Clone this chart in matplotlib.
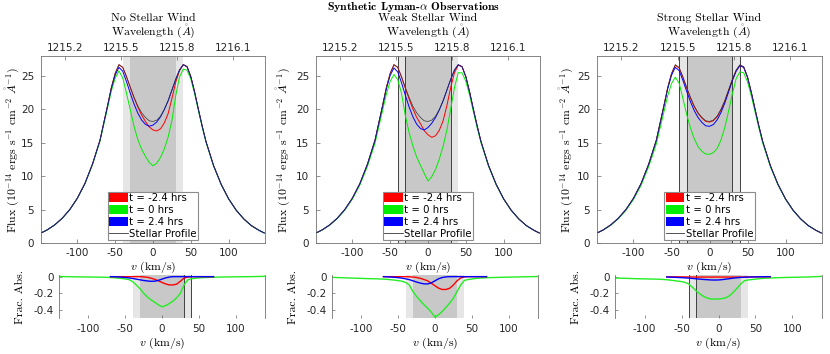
import numpy as np
import matplotlib.pyplot as plt
from matplotlib.patches import Patch
from matplotlib.lines import Line2D

plt.rcParams['mathtext.fontset'] = 'cm'
plt.rcParams['axes.unicode_minus'] = False
plt.rcParams['font.family'] = 'DejaVu Sans'

LYA = 1215.67
C_KMS = 299792.458

# velocity grid (km/s) shared by all curves
v_kms = [-147, -140, -130, -120, -110, -100, -90, -80,
         -70, -65, -60, -55, -50, -45, -40, -35, -30, -25, -20, -15, -10, -5,
         0, 5, 10, 15, 20, 25, 30, 35, 40, 45, 50, 55, 60, 65, 70,
         80, 90, 100, 110, 120, 130, 140, 147]

# intrinsic stellar profile (1e-14 ergs/s/cm2/A)
stellar = [1.55, 1.95, 2.7, 3.7, 5.0, 6.7, 8.9, 11.8,
           15.4, 18.0, 20.6, 23.3, 25.4, 26.7, 26.3, 24.9, 23.3, 21.8, 20.5, 19.5, 18.8, 18.3,
           18.2, 18.4, 19.0, 20.0, 21.3, 22.9, 24.5, 25.9, 26.7, 26.4, 24.9, 22.6, 20.0, 17.5, 15.2,
           11.6, 8.8, 6.6, 4.9, 3.6, 2.6, 1.9, 1.5]

# fractional absorption, no stellar wind
red_none = [0, 0, 0, 0, 0, 0, 0, 0,
            0, 0, 0, 0, 0, 0, 0, 0, 0, -0.003, -0.008, -0.018, -0.032, -0.05,
            -0.07, -0.088, -0.1, -0.1, -0.09, -0.055, -0.018, -0.004, 0, 0, 0, 0, 0, 0, 0,
            0, 0, 0, 0, 0, 0, 0, 0]
green_none = [0.005, 0.003, 0.0, -0.002, -0.003, -0.004, -0.005, -0.007,
              -0.01, -0.013, -0.018, -0.022, -0.028, -0.035, -0.06, -0.1, -0.145, -0.2, -0.245, -0.28, -0.31, -0.34,
              -0.365, -0.35, -0.325, -0.295, -0.255, -0.2, -0.1, -0.04, -0.025, -0.02, -0.015, -0.012, -0.01, -0.008, -0.007,
              -0.005, -0.003, -0.002, -0.001, 0.0, 0.002, 0.004, 0.005]
blue_none = [0, 0, 0, 0, 0, 0, 0, 0,
             0, 0, -0.003, -0.006, -0.01, -0.015, -0.022, -0.03, -0.038, -0.046, -0.052, -0.056, -0.055, -0.045,
             -0.03, -0.015, -0.005, 0, 0, 0, 0, 0, 0, 0, 0, 0, 0, 0, 0,
             0, 0, 0, 0, 0, 0, 0, 0]

# fractional absorption, weak stellar wind
red_weak = [0, 0, 0, 0, 0, 0, 0, 0,
            0, 0, 0, 0, 0, 0, 0, -0.002, -0.005, -0.01, -0.02, -0.035, -0.05, -0.08,
            -0.11, -0.14, -0.155, -0.155, -0.14, -0.1, -0.05, -0.015, -0.003, 0, 0, 0, 0, 0, 0,
            0, 0, 0, 0, 0, 0, 0, 0]
green_weak = [-0.005, -0.008, -0.012, -0.015, -0.018, -0.021, -0.024, -0.026,
              -0.03, -0.033, -0.037, -0.042, -0.048, -0.055, -0.07, -0.1, -0.18, -0.24, -0.29, -0.34, -0.38, -0.43,
              -0.49, -0.46, -0.42, -0.37, -0.32, -0.26, -0.18, -0.1, -0.045, -0.035, -0.028, -0.022, -0.018, -0.015, -0.013,
              -0.01, -0.008, -0.006, -0.004, -0.002, 0.0, 0.002, 0.003]
blue_weak = [0, 0, 0, 0, 0, 0, 0, 0,
             0, -0.002, -0.005, -0.008, -0.012, -0.018, -0.026, -0.036, -0.05, -0.065, -0.078, -0.087, -0.088, -0.075,
             -0.05, -0.025, -0.01, -0.003, 0, 0, 0, 0, 0, 0, 0, 0, 0, 0, 0,
             0, 0, 0, 0, 0, 0, 0, 0]

# fractional absorption, strong stellar wind
red_strong = [0, 0, 0, 0, 0, 0, 0, 0,
              -0.002, -0.002, -0.002, -0.002, -0.003, -0.003, -0.004, -0.004, -0.005, -0.005, -0.005, -0.005, -0.005, -0.005,
              -0.005, -0.005, -0.005, -0.005, -0.005, -0.005, -0.005, -0.004, -0.004, -0.003, -0.003, -0.002, -0.002, -0.002, -0.002,
              0, 0, 0, 0, 0, 0, 0, 0]
green_strong = [-0.015, -0.016, -0.019, -0.022, -0.025, -0.027, -0.029, -0.031,
                -0.037, -0.042, -0.048, -0.054, -0.06, -0.07, -0.09, -0.13, -0.175, -0.21, -0.24, -0.26, -0.27, -0.272,
                -0.27, -0.265, -0.255, -0.23, -0.19, -0.14, -0.09, -0.05, -0.04, -0.035, -0.03, -0.025, -0.02, -0.018, -0.016,
                -0.013, -0.01, -0.008, -0.006, -0.004, -0.001, 0.004, 0.006]
blue_strong = [0, 0, 0, 0, 0, 0, 0, 0,
               -0.004, -0.006, -0.008, -0.01, -0.012, -0.015, -0.018, -0.022, -0.026, -0.03, -0.034, -0.037, -0.04, -0.041,
               -0.04, -0.036, -0.03, -0.024, -0.018, -0.013, -0.009, -0.007, -0.005, -0.004, -0.003, -0.002, -0.001, 0, 0,
               0, 0, 0, 0, 0, 0, 0, 0]

titles = ["No Stellar Wind", "Weak Stellar Wind", "Strong Stellar Wind"]
frac_red = [red_none, red_weak, red_strong]
frac_green = [green_none, green_weak, green_strong]
frac_blue = [blue_none, blue_weak, blue_strong]
labels = ["t = -2.4 hrs", "t = 0 hrs", "t = 2.4 hrs", "Stellar Profile"]
wave_ticks = [1215.2, 1215.5, 1215.8, 1216.1]
flux_ticks = [0, 5, 10, 15, 20, 25]
v_ticks = [-100, -50, 0, 50, 100]
frac_ticks = [0, -0.2, -0.4]
marker_lines_top = [[], [-40, -30, 30], [-40, -30, 30, 40]]
marker_lines_bot = [[30, 40], [], [-40, -30]]

W, H = 830, 354
fig = plt.figure(figsize=(8.3, 3.54), dpi=100)


def box(x0, y0, x1, y1):
    # pixel box (y measured from top) -> figure fraction
    return [x0 / W, 1 - y1 / H, (x1 - x0) / W, (y1 - y0) / H]


def v2lam(v):
    return LYA * (1 + np.asarray(v) / C_KMS)


def lam2v(lam):
    return (np.asarray(lam) / LYA - 1) * C_KMS


top_px = [(41, 265), (316, 540), (597, 822)]
bot_px = [(59, 265), (332, 538), (615, 822)]
flux_lab_x = [12, 283, 566]
cols = {'red': '#ff0000', 'green': '#00ee00', 'blue': '#0000ff'}
serif = dict(family='cmr10', size=8.5, ha='center', va='center')

v = np.array(v_kms)
star = np.array(stellar)
core = np.abs(v) <= 70

for i in range(3):
    # ---- flux panel ----
    x0, x1 = top_px[i]
    ax = fig.add_axes(box(x0, 56, x1, 243))
    ax.axvspan(-40, 40, color='#e6e6e6', lw=0, zorder=0)
    ax.axvspan(-30, 30, color='#c8c8c8', lw=0, zorder=0)
    for xv in marker_lines_top[i]:
        ax.axvline(xv, color='0.25', lw=0.7, zorder=1)
    ax.plot(v, star * (1 + np.array(frac_red[i])), color=cols['red'], lw=0.7, zorder=2)
    ax.plot(v, star * (1 + np.array(frac_green[i])), color=cols['green'], lw=0.7, zorder=2)
    ax.plot(v, star * (1 + np.array(frac_blue[i])), color=cols['blue'], lw=0.7, zorder=2)
    ax.plot(v, star, color='0.2', lw=0.5, zorder=3)
    ax.set_xlim(-148, 148)
    ax.set_ylim(0, 28)
    ax.set_xticks(v_ticks)
    ax.set_yticks(flux_ticks)
    ax.tick_params(direction='in', length=3, width=0.5, labelsize=7.5,
                   color='0.4', labelcolor='0.15')
    ax.tick_params(axis='y', pad=5)
    for s in ax.spines.values():
        s.set_color('0.45')
        s.set_linewidth(0.6)
    sec = ax.secondary_xaxis('top', functions=(v2lam, lam2v))
    sec.set_xticks(wave_ticks)
    sec.set_xticklabels([f"{w:.1f}" for w in wave_ticks])
    sec.tick_params(direction='in', length=3, width=0.5, labelsize=7.5,
                    color='0.4', labelcolor='0.15', pad=2)
    sec.spines['top'].set_visible(False)

    handles = [Patch(facecolor=cols['red'], edgecolor='none'),
               Patch(facecolor=cols['green'], edgecolor='none'),
               Patch(facecolor=cols['blue'], edgecolor='none'),
               Line2D([], [], color='0.2', lw=0.6)]
    leg = ax.legend(handles, labels, loc='lower center', bbox_to_anchor=(0.5, 0.015),
                    fontsize=7.3, frameon=True, fancybox=False, edgecolor='0.55',
                    framealpha=1, borderpad=0.15, labelspacing=0.18,
                    handlelength=1.8, handleheight=0.9, handletextpad=0.15,
                    borderaxespad=0)
    leg.get_frame().set_linewidth(0.8)

    cx = (x0 + x1) / 2
    fig.text(cx / W, 1 - 18 / H, titles[i], **serif)
    fig.text(cx / W, 1 - 31 / H, r'Wavelength $(\mathring{A})$', **serif)
    fig.text(cx / W, 1 - 267 / H, r'$v$ (km/s)', **serif)
    fig.text(flux_lab_x[i] / W, 1 - 150 / H,
             r'Flux $(10^{-14}$ ergs s$^{-1}$ cm$^{-2}$ $\mathring{A}^{-1})$',
             rotation=90, **serif)

    # ---- fractional absorption panel ----
    b0, b1 = bot_px[i]
    bx = fig.add_axes(box(b0, 275, b1, 318))
    bx.axvspan(-40, 40, color='#e6e6e6', lw=0, zorder=0)
    bx.axvspan(-30, 30, color='#c8c8c8', lw=0, zorder=0)
    for xv in marker_lines_bot[i]:
        bx.axvline(xv, color='0.25', lw=0.7, zorder=1)
    bx.plot(v, np.array(frac_green[i]), color='#22ee22', lw=1.0, zorder=2)
    bx.plot(v[core], np.array(frac_red[i])[core], color=cols['red'], lw=1.0, zorder=2)
    bx.plot(v[core], np.array(frac_blue[i])[core], color=cols['blue'], lw=1.0, zorder=3)
    bx.set_xlim(-140, 140)
    bx.set_ylim(-0.5, 0.02)
    bx.set_xticks(v_ticks)
    bx.set_yticks(frac_ticks)
    bx.set_yticklabels(['0', '-0.2', '-0.4'])
    bx.tick_params(direction='in', length=2, width=0.5, labelsize=7.5,
                   color='0.4', labelcolor='0.15', pad=4)
    for side in ['top', 'bottom']:
        bx.spines[side].set_visible(False)
    for side in ['left', 'right']:
        bx.spines[side].set_color('0.45')
        bx.spines[side].set_linewidth(0.6)
    bcx = (b0 + b1) / 2
    fig.text(bcx / W, 1 - 343 / H, r'$v$ (km/s)', **serif)
    fig.text((b0 - 39) / W, 1 - 297 / H, 'Frac. Abs.', rotation=90, **serif)

fig.text(413 / W, 1 - 7 / H, r'Synthetic Lyman-$\alpha$ Observations',
         family='cmb10', size=8.5, ha='center', va='center')

fig.savefig('out.png', dpi=100)
